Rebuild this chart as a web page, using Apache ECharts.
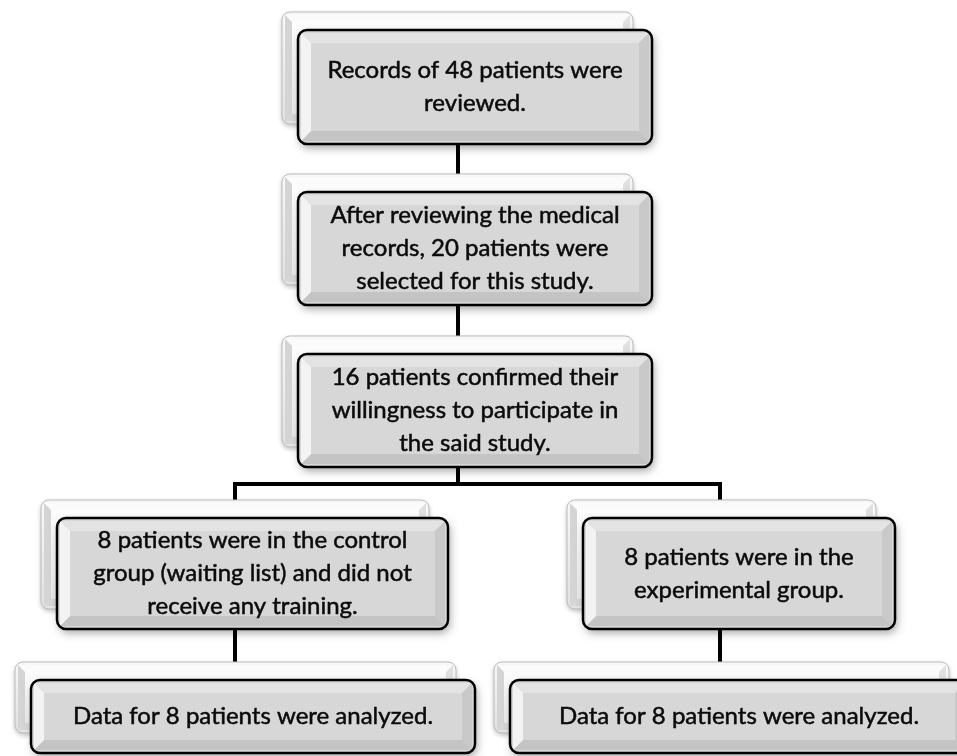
<!DOCTYPE html>
<html>
<head>
<meta charset="utf-8">
<title>Flow</title>
<script src="https://cdn.jsdelivr.net/npm/echarts@6/dist/echarts.min.js"></script>
<style>
	html, body { margin: 0; padding: 0; background: #fff; }
	#chart { width: 957px; height: 756px; }
</style>
</head>
<body>
<div id="chart"></div>
<script>
// box texts, top to bottom, left to right
var boxTexts = [
	"Records of 48 patients were\nreviewed.",
	"After reviewing the medical\nrecords, 20 patients were\nselected for this study.",
	"16 patients confirmed their\nwillingness to participate in\nthe said study.",
	"8 patients were in the control\ngroup (waiting list) and did not\nreceive any training.",
	"8 patients were in the\nexperimental group.",
	"Data for 8 patients were analyzed.",
	"Data for 8 patients were analyzed."
];

// layout of the front boxes [x, y, w, h]
var boxRects = [
	[298, 30, 354, 114],
	[298, 192, 354, 113],
	[298, 354, 354, 113],
	[57, 518, 391, 111],
	[583, 518, 312, 111],
	[31, 680, 444, 73],
	[510, 680, 458, 73]
];

// connector polylines
var links = [
	[[458, 144], [458, 192]],
	[[458, 305], [458, 354]],
	[[458, 467], [458, 484]],
	[[235, 502], [235, 484], [720, 484], [720, 502]],
	[[235, 629], [235, 662]],
	[[720, 629], [720, 662]]
];

(function() {
	var myChart = echarts.init(document.getElementById("chart"));
	var els = [];

	links.forEach(function(pts) {
		els.push({
			type: "polyline",
			shape: { points: pts },
			style: { stroke: "#000", lineWidth: 4, fill: null, lineJoin: "miter" },
			z: 1
		});
	});

	function bevel(x, y, w, h, b, cols, z) {
		var i = 3;
		var o = [[x + i, y + i], [x + w - i, y + i], [x + w - i, y + h - i], [x + i, y + h - i]];
		var n = [[x + b, y + b], [x + w - b, y + b], [x + w - b, y + h - b], [x + b, y + h - b]];
		// top, right, bottom, left
		var bands = [
			[o[0], o[1], n[1], n[0]],
			[o[1], o[2], n[2], n[1]],
			[o[2], o[3], n[3], n[2]],
			[o[3], o[0], n[0], n[3]]
		];
		bands.forEach(function(p, k) {
			els.push({ type: "polygon", shape: { points: p }, style: { fill: cols[k] }, z: z });
		});
	}

	boxRects.forEach(function(r, idx) {
		var x = r[0], y = r[1], w = r[2], h = r[3];
		var bx = x - 16, by = y - 18, bw = w - 3, bh = h - 2;
		var z = 10 + idx * 10;
		// back card
		els.push({
			type: "rect",
			shape: { x: bx, y: by, width: bw, height: bh, r: 8 },
			style: {
				fill: new echarts.graphic.LinearGradient(0, 0, 0, 1, [
					{ offset: 0, color: "#ffffff" },
					{ offset: 1, color: "#e6e6e6" }
				]),
				stroke: "#bdbdbd",
				lineWidth: 1,
				shadowBlur: 4,
				shadowOffsetY: 2,
				shadowColor: "rgba(0,0,0,0.2)"
			},
			z: z
		});
		bevel(bx, by, bw, bh, 10, ["#fbfbfb", "#e0e0e0", "#d6d6d6", "#d4d4d4"], z + 1);
		// front card
		els.push({
			type: "rect",
			shape: { x: x, y: y, width: w, height: h, r: 9 },
			style: {
				fill: "#d7d7d7",
				shadowBlur: 8,
				shadowOffsetX: 2,
				shadowOffsetY: 4,
				shadowColor: "rgba(0,0,0,0.35)"
			},
			z: z + 2
		});
		bevel(x, y, w, h, 13, ["#e3e3e3", "#c9c9c9", "#c4c4c4", "#f3f3f3"], z + 3);
		els.push({
			type: "rect",
			shape: { x: x, y: y, width: w, height: h, r: 9 },
			style: { fill: null, stroke: "#000", lineWidth: 2.5 },
			z: z + 4
		});
		els.push({
			type: "text",
			style: {
				text: boxTexts[idx],
				x: x + w / 2,
				y: y + h / 2,
				fill: "#0a0a0a",
				stroke: "#0a0a0a",
				lineWidth: 0.5,
				font: "24px Lato",
				lineHeight: 33,
				textAlign: "center",
				textVerticalAlign: "middle"
			},
			z: z + 5
		});
	});

	var option = {
		backgroundColor: "#fff",
		graphic: { elements: els }
	};

	myChart.setOption(option);

	window.addEventListener("resize", function() {
		myChart.resize();
	});
})();
</script>
</body>
</html>
